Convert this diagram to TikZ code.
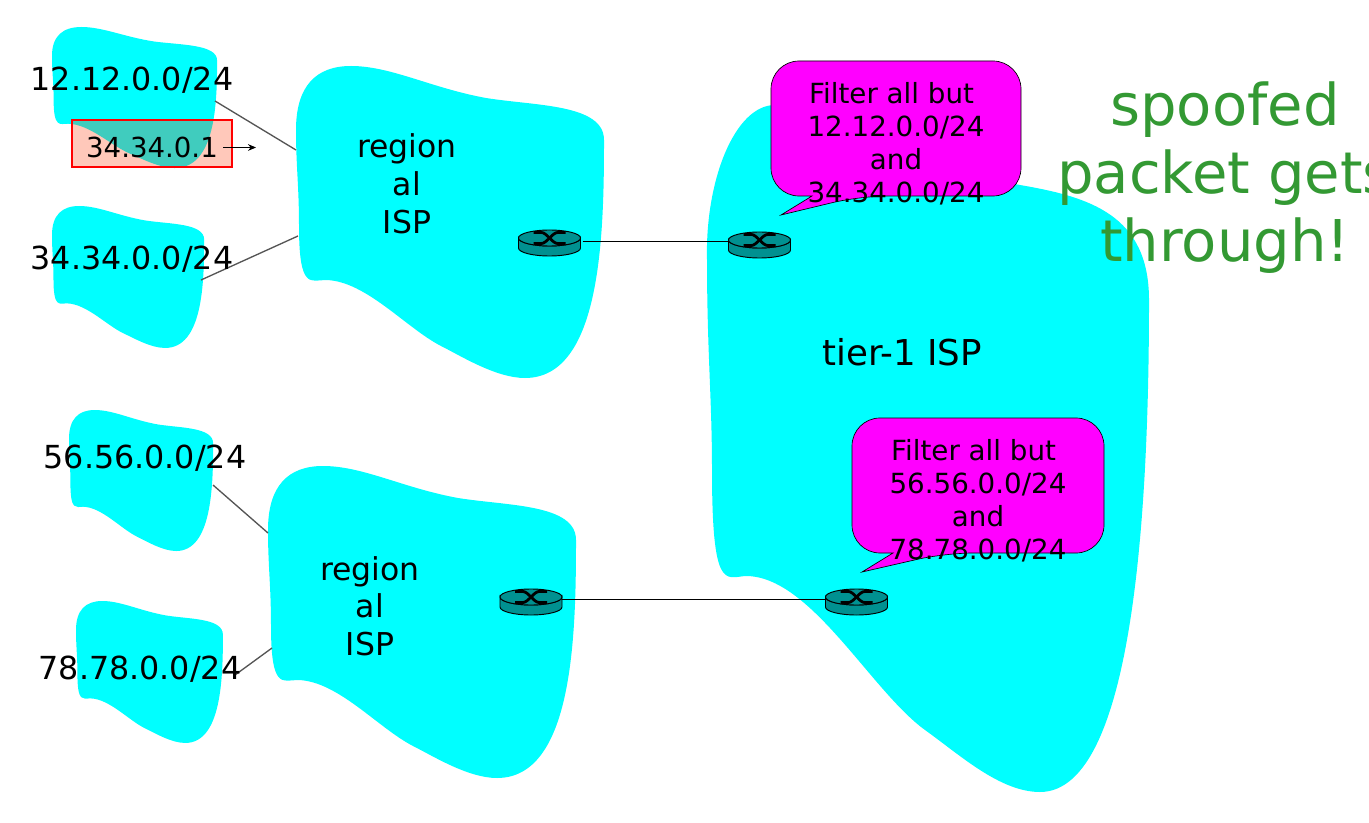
\documentclass[tikz,border=0pt]{standalone}
\usepackage{fontspec}
\setmainfont{DejaVu Sans}
\usetikzlibrary{arrows.meta}
\definecolor{blobcyan}{RGB}{0,255,255}
\definecolor{overlap}{RGB}{64,204,190}
\definecolor{stamp}{RGB}{255,200,186}
\definecolor{routerteal}{RGB}{0,145,145}
\definecolor{bubble}{RGB}{255,0,255}
\definecolor{saygreen}{RGB}{51,153,51}
\definecolor{wire}{RGB}{85,85,85}
\newcommand{\blobpath}{(0,64) .. controls (0,20) and (20,0) .. (55,0)
 .. controls (95,0) and (135,22) .. (190,32)
 .. controls (240,40) and (308,38) .. (308,74)
 .. controls (308,170) and (305,312) .. (229,312)
 .. controls (200,312) and (165,290) .. (145,280)
 .. controls (110,262) and (70,215) .. (30,214)
 .. controls (15,214) and (3,225) .. (3,160)
 .. controls (3,120) and (0,100) .. (0,64) -- cycle}
\newcommand{\myblob}[4]{\begin{scope}[shift={(#1,#2)},xscale=#3,yscale=#4]\fill[blobcyan] \blobpath;\end{scope}}
\newcommand{\myrouter}[4]{%
 \begin{scope}[shift={(#2,#3)}]
  \path[draw=black,fill=routerteal,line width=0.7pt] (-31,0) -- (-31,10) arc[start angle=180,end angle=360,x radius=31,y radius=-8] -- (31,0) arc[start angle=0,end angle=180,x radius=31,y radius=8] -- cycle;
  \path[draw=black,fill=routerteal,line width=0.7pt] (0,0) ellipse[x radius=31,y radius=8];
  \draw[black,line width=2.1pt] (-16,-5.5) -- (-8,-5.5) .. controls (-3,-5.5) and (3,5.5) .. (8,5.5) -- (16,5.5);
  \draw[black,line width=2.1pt] (-16,5.5) -- (-8,5.5) .. controls (-3,5.5) and (3,-5.5) .. (8,-5.5) -- (16,-5.5);
 \end{scope}
 \node[routerbox] (#1) at (#2,#4) {};}
\tikzset{
 x=0.75pt,y=-0.75pt,
 routerbox/.style={minimum width=46.5pt,minimum height=19pt,inner sep=0pt,outer sep=0pt},
 netlabel/.style={text=black,inner sep=0pt,font=\fontsize{23.8}{28}\selectfont},
 isplabel/.style={text=black,inner sep=0pt,align=center,font=\fontsize{23.6}{28.3}\selectfont},
 filterlabel/.style={text=black,inner sep=0pt,align=center,font=\fontsize{20.8}{24.75}\selectfont},
 bubbleshape/.style={draw=black,fill=bubble,line width=0.5pt,rounded corners=21pt},
 wireline/.style={draw=wire,line width=1pt},
 linkline/.style={draw=black,line width=0.6pt},
}
\begin{document}
\begin{tikzpicture}
\useasboundingbox (0,0) rectangle (1369,823);
\clip (0,0) rectangle (1369,823);
\fill[white] (0,0) rectangle (1369,823);
% customer and regional clouds
\myblob{52}{27}{0.536}{0.452}
\myblob{52}{206}{0.494}{0.455}
\myblob{69}{410}{0.468}{0.452}
\myblob{76}{601}{0.477}{0.455}
\myblob{296}{66}{1}{1}
\myblob{268}{466}{1}{1}
% tier-1 cloud
\fill[blobcyan] (707,260) .. controls (705,180) and (735,105) .. (775,105)
 .. controls (840,105) and (950,172) .. (1020,185)
 .. controls (1090,197) and (1149,215) .. (1149,300)
 .. controls (1149,500) and (1135,792) .. (1040,792)
 .. controls (1000,792) and (960,755) .. (925,730)
 .. controls (870,690) and (810,575) .. (745,576)
 .. controls (725,578) and (712,590) .. (712,470)
 .. controls (712,400) and (707,350) .. (707,260) -- cycle;
% access links
\coordinate (c1) at (215,101); \coordinate (i1a) at (296,150);
\coordinate (c2) at (201,280); \coordinate (i1b) at (298,236);
\coordinate (c3) at (213,485); \coordinate (i2a) at (268,533);
\coordinate (c4) at (235,675); \coordinate (i2b) at (272,648);
\draw[wireline] (c1) -- (i1a);
\draw[wireline] (c2) -- (i1b);
\draw[wireline] (c3) -- (i2a);
\draw[wireline] (c4) -- (i2b);
% routers
\myrouter{r1}{549.5}{238}{241}
\myrouter{r2}{759.5}{240}{241}
\myrouter{r3}{531}{597}{599}
\myrouter{r4}{856.5}{597}{599}
\draw[linkline] ([xshift=1.5pt]r1.east) -- (r2.west);
\draw[linkline] (r3.east) -- (r4.west);
% spoofed packet
\fill[stamp] (72,120) rectangle (232,167);
\begin{scope}
 \clip (72,120) rectangle (232,167);
 \begin{scope}[shift={(52,27)},xscale=0.536,yscale=0.452]\fill[overlap] \blobpath;\end{scope}
\end{scope}
\draw[red,line width=1.4pt] (72,120) rectangle (232,167);
\node[inner sep=0pt,text=black,font=\fontsize{20.7}{24}\selectfont] (pkt) at (152,147) {34.34.0.1};
\coordinate (pktend) at (256,147.5);
\coordinate (pktstart) at (223,147.5);
\draw[black,line width=0.6pt,-{Stealth[length=6pt,width=5pt]}] (pktstart) -- (pktend);
% filter callouts
\path[bubbleshape] (771,61) -- (1021,61) -- (1021,196) -- (860,196)
 [sharp corners] -- (781,215) -- (812,196) [rounded corners=21pt] -- (771,196) -- cycle;
\path[bubbleshape] (852,418) -- (1104,418) -- (1104,553) -- (945,553)
 [sharp corners] -- (862,572) -- (893,553) [rounded corners=21pt] -- (852,553) -- cycle;
\node[filterlabel] (f1) at (896,143.5) {Filter all but\hspace*{6.6pt}\\12.12.0.0/24\\and\\34.34.0.0/24};
\node[filterlabel] (f2) at (978,500.5) {Filter all but\hspace*{6.6pt}\\56.56.0.0/24\\and\\78.78.0.0/24};
% labels
\node[netlabel] (n1) at (132,80) {12.12.0.0/24};
\node[netlabel] (n2) at (132,259) {34.34.0.0/24};
\node[netlabel] (n3) at (145,458) {56.56.0.0/24};
\node[netlabel] (n4) at (140,669) {78.78.0.0/24};
\node[isplabel] (reg1) at (407,184) {region\\al\\ISP};
\node[isplabel] (reg2) at (370,606) {region\\al\\ISP};
\node[text=black,inner sep=0pt,font=\fontsize{26.7}{30}\selectfont] (tier) at (902,352) {tier-1 ISP};
\node[text=saygreen,inner sep=0pt,align=center,font=\fontsize{43.2}{51}\selectfont] (say) at (1225,178) {spoofed\\packet gets\hspace*{13.7pt}\\through!};
\end{tikzpicture}
\end{document}
